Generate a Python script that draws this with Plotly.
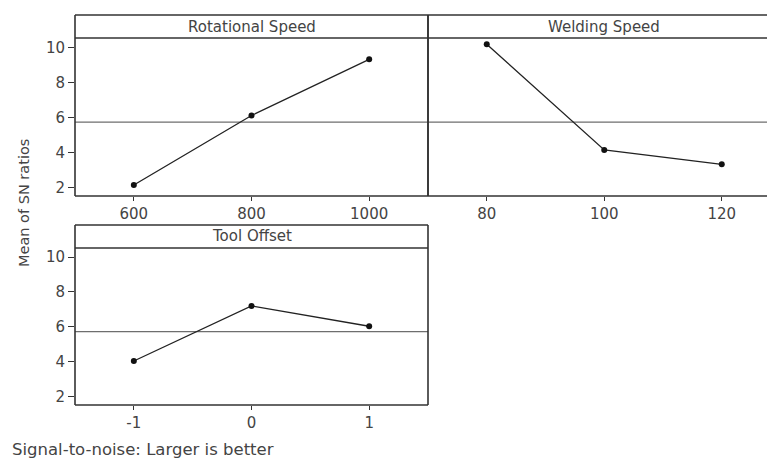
import plotly.graph_objects as go

# ---- data ----
rot_levels = ["600", "800", "1000"]
rot_sn = [2.13, 6.10, 9.31]
weld_levels = ["80", "100", "120"]
weld_sn = [10.17, 4.13, 3.31]
tool_levels = ["-1", "0", "1"]
tool_sn = [4.03, 7.20, 6.03]
overall_mean = 5.72
panel_titles = ["Rotational Speed", "Welding Speed", "Tool Offset"]
y_ticks = [2, 4, 6, 8, 10]

W, H = 767, 465
def px(x):
    return x / W
def py(y):
    return 1 - y / H

FONT = "DejaVu Sans"
TXT = "#444444"
LINE = "#333333"

fig = go.Figure()

series = [
    (rot_levels, rot_sn, "x", "y"),
    (weld_levels, weld_sn, "x2", "y2"),
    (tool_levels, tool_sn, "x3", "y3"),
]
for lv, vals, xa, ya in series:
    fig.add_trace(go.Scatter(
        x=lv, y=vals, xaxis=xa, yaxis=ya, mode="lines+markers",
        line=dict(color="#222222", width=1.3),
        marker=dict(color="#111111", size=6),
        showlegend=False, hoverinfo="x+y"))

# panel geometry in pixels: (left, right, strip_top, strip_bottom, plot_bottom, show_right)
panels = [
    (75, 428, 15, 38, 196, True),
    (428, 767, 15, 38, 196, False),
    (75, 428, 225, 248, 405, True),
]

yrange = [1.5, 10.53]
axis_common = dict(showgrid=False, zeroline=False, showline=False,
                   ticks="outside", ticklen=4, tickwidth=1, tickcolor=LINE,
                   tickfont=dict(family=FONT, size=15, color=TXT))

layout_axes = {}
names = [("xaxis", "yaxis"), ("xaxis2", "yaxis2"), ("xaxis3", "yaxis3")]
anchors = [("y", "x"), ("y2", "x2"), ("y3", "x3")]
for i, ((l, r, st, sb, pb, show_r), (xn, yn), (xanc, yanc)) in enumerate(zip(panels, names, anchors)):
    n_span = (r - l) / 117.5
    xr = [-0.5, -0.5 + n_span] if not show_r else [-0.5, 2.5]
    layout_axes[xn] = dict(axis_common, domain=[px(l), px(r) if r < W else 1.0],
                           anchor=xanc, type="category", range=xr, fixedrange=True)
    show_y = i != 1
    layout_axes[yn] = dict(axis_common, domain=[py(pb), py(sb)], anchor=yanc,
                           range=yrange, tickvals=y_ticks if show_y else [],
                           ticks="outside" if show_y else "", ticklen=6,
                           showticklabels=show_y, fixedrange=True)

fig.update_layout(**layout_axes)

shapes = []
for i, (l, r, st, sb, pb, show_r) in enumerate(panels):
    lw = 1.6
    shapes.append(dict(type="line", xref="paper", yref="paper", x0=px(l), x1=px(r), y0=py(st), y1=py(st), line=dict(color=LINE, width=lw)))
    shapes.append(dict(type="line", xref="paper", yref="paper", x0=px(l), x1=px(r), y0=py(sb), y1=py(sb), line=dict(color=LINE, width=lw)))
    shapes.append(dict(type="line", xref="paper", yref="paper", x0=px(l), x1=px(r), y0=py(pb), y1=py(pb), line=dict(color=LINE, width=lw)))
    shapes.append(dict(type="line", xref="paper", yref="paper", x0=px(l), x1=px(l), y0=py(st), y1=py(pb), line=dict(color=LINE, width=lw)))
    if show_r:
        shapes.append(dict(type="line", xref="paper", yref="paper", x0=px(r), x1=px(r), y0=py(st), y1=py(pb), line=dict(color=LINE, width=lw)))
    xr = ["x", "x2", "x3"][i]
    yr = ["y", "y2", "y3"][i]
    shapes.append(dict(type="line", xref=xr + " domain", yref=yr, x0=0, x1=1,
                       y0=overall_mean, y1=overall_mean, line=dict(color="#6e6e6e", width=1.2), layer="below"))

annotations = []
for (l, r, st, sb, pb, show_r), t in zip(panels, panel_titles):
    cx = (l + (r if show_r else 767 + 13)) / 2
    cx = min(cx, 766)
    annotations.append(dict(text=t, xref="paper", yref="paper", x=px(cx), y=py((st + sb) / 2),
                            xanchor="center", yanchor="middle", showarrow=False,
                            font=dict(family=FONT, size=15, color=TXT)))
annotations.append(dict(text="Mean of SN ratios", xref="paper", yref="paper", x=px(24), y=py(203),
                        textangle=-90, xanchor="center", yanchor="middle", showarrow=False,
                        font=dict(family=FONT, size=14.5, color=TXT)))
annotations.append(dict(text="Signal-to-noise: Larger is better", xref="paper", yref="paper",
                        x=px(10), y=py(449), xanchor="left", yanchor="middle", showarrow=False,
                        font=dict(family=FONT, size=16.5, color=TXT)))

fig.update_layout(width=W, height=H, margin=dict(l=0, r=0, t=0, b=0),
                  paper_bgcolor="white", plot_bgcolor="white",
                  shapes=shapes, annotations=annotations, showlegend=False)

fig.write_html("out.html", config={"displayModeBar": False},
               post_script="document.body.style.margin='0';document.body.style.overflow='hidden';")
